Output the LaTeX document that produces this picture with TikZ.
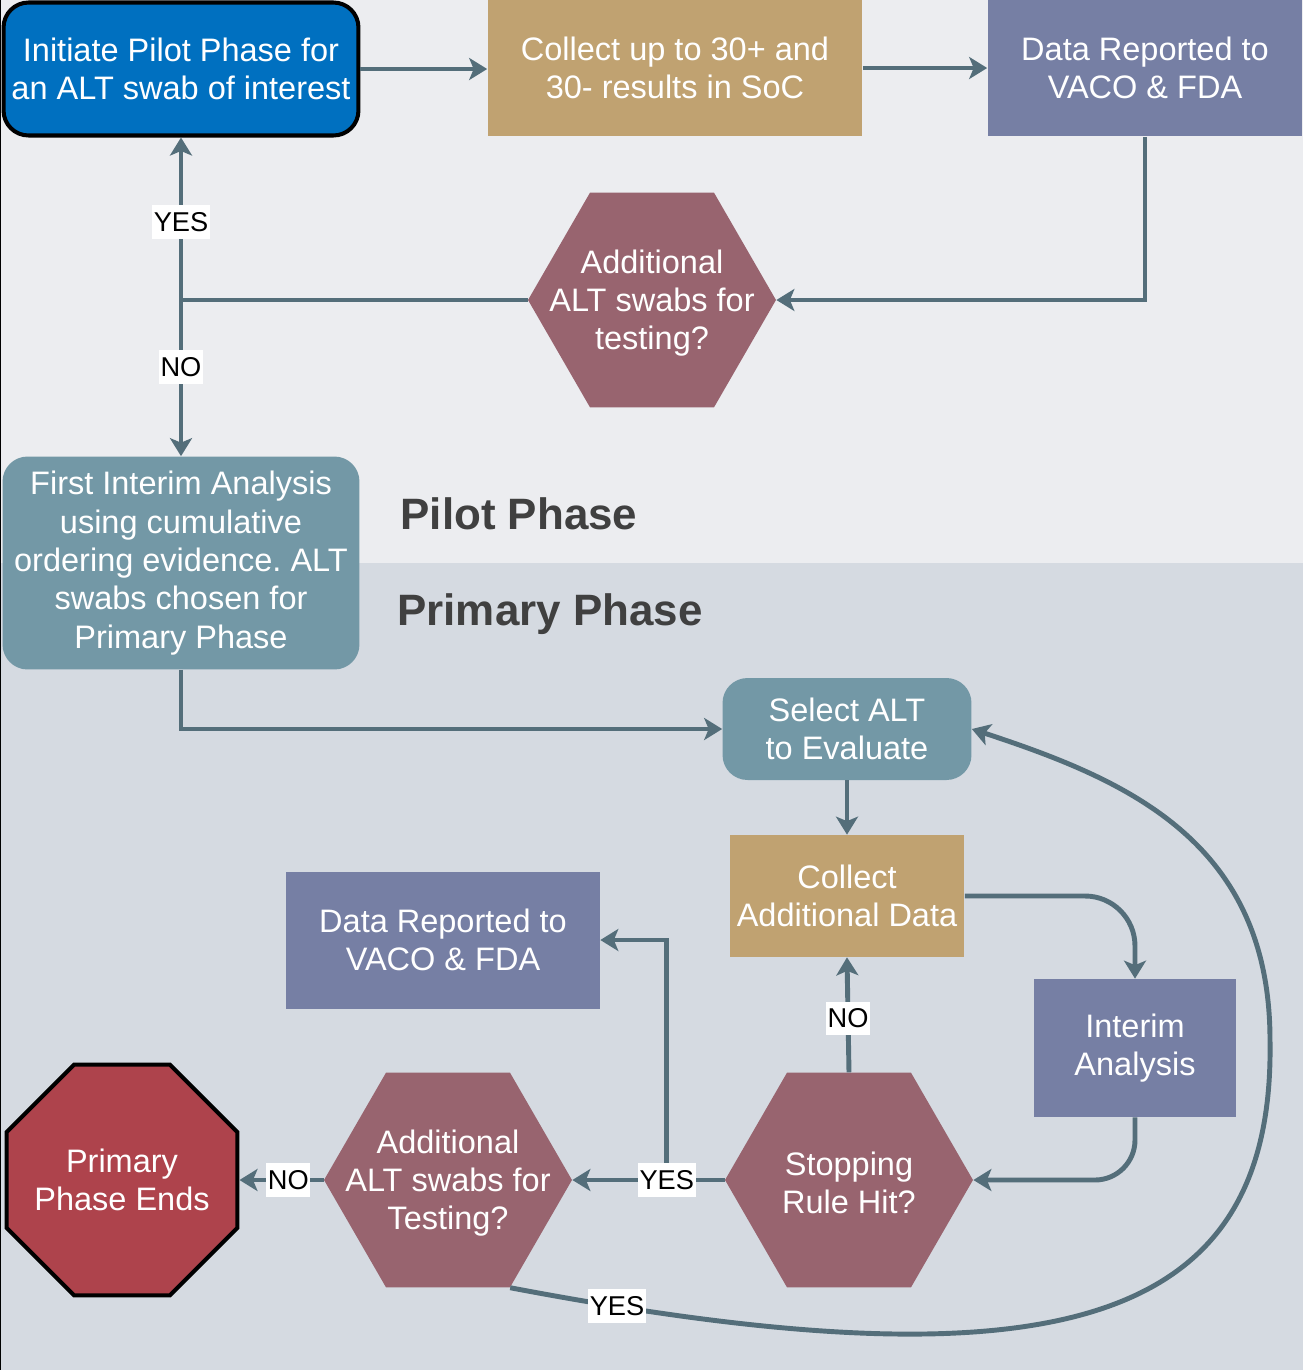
\documentclass[tikz,border=0pt]{standalone}
\usepackage{fontspec}
\setmainfont{Liberation Sans}
\usepackage{xcolor}
\usepackage{tikz}
\usetikzlibrary{positioning}
\usetikzlibrary{arrows.meta, shapes.geometric, calc}
\frenchspacing

\definecolor{pilotbg}{HTML}{ECEDF0}
\definecolor{primbg}{HTML}{D5DAE1}
\definecolor{startblue}{HTML}{0070C0}
\definecolor{collecttan}{HTML}{C0A271}
\definecolor{reportslate}{HTML}{767FA4}
\definecolor{decisionmauve}{HTML}{98646F}
\definecolor{analysisteal}{HTML}{7398A6}
\definecolor{stopred}{HTML}{AE434C}
\definecolor{linkgray}{HTML}{546E7A}
\definecolor{titlegray}{HTML}{404040}

\tikzset{
    boxtext/.style={text=white, align=center, font=\fontsize{18.5}{21.8}\selectfont, inner sep=0pt},
    plainbox/.style={boxtext, rectangle, fill=#1},
    roundbox/.style={boxtext, rectangle, rounded corners=0.5cm, fill=#1},
    hexbox/.style={regular polygon, regular polygon sides=6, fill=decisionmauve, minimum size=4.96cm, inner sep=0pt},
    hextext/.style={boxtext, yshift=-0.06cm},
    link/.style={draw=linkgray, line width=2.8pt},
    arr/.style={link, -{Stealth[length=0.36cm, width=0.44cm, inset=0.09cm]}},
    yesno/.style={fill=white, text=black, font=\fontsize{15.5}{18}\selectfont, inner xsep=1pt, inner ysep=4pt},
    phasetitle/.style={text=titlegray, font=\fontsize{25}{30}\selectfont\bfseries},
}

\begin{document}
\begin{tikzpicture}[x=0.02cm, y=-0.02cm]
            \useasboundingbox (0,0) rectangle (1303,1370);
            % background panes
            \fill[pilotbg] (0,0) rectangle (1303,563);
            \fill[primbg] (0,563) rectangle (1303,1370);
            \draw[black, line width=0.06cm] (0,0) -- (0,1370);

            % pilot phase
            \begin{scope}
                \node[roundbox=startblue, draw=black, line width=2.3pt, minimum width=7.1cm, minimum height=2.66cm] (init) at (181,69) {Initiate Pilot Phase for\\an ALT swab of interest};
                \node[plainbox=collecttan, minimum width=7.5cm, minimum height=2.74cm] (collect1) at (675,68) {Collect up to 30+ and\\30- results in SoC};
                \node[plainbox=reportslate, minimum width=6.3cm, minimum height=2.74cm] (report1) at (1145,68) {Data Reported to\\VACO \& FDA};
                \node[hexbox, label={[hextext]center:{Additional\\ALT swabs for\\testing?}}] (pilotmore) at (652,300) {};
                \node[roundbox=analysisteal, minimum width=7.14cm, minimum height=4.26cm] (first) at (181,563) {First Interim Analysis\\using cumulative\\ordering evidence. ALT\\swabs chosen for\\Primary Phase};
                \node[phasetitle] (pilottitle) at (519,514) {Pilot Phase};

                \draw[arr] (init.east) -- (init.east -| collect1.west);
                \draw[arr] (collect1.east) -- (report1.west);
                \draw[arr] (report1.south) |- (pilotmore.east);
                \draw[link] (pilotmore.west) -- (pilotmore.west -| init.south) coordinate (j1);
                \draw[arr] (j1) -- node[yesno, pos=0.48] (yes1) {YES} (init.south);
                \draw[arr] (j1) -- node[yesno, pos=0.43] (no1) {NO} (first.north);
            \end{scope}

            % primary phase
            \begin{scope}
                \node[phasetitle] (primtitle) at (550,614) {Primary Phase};
                \node[roundbox=analysisteal, minimum width=4.98cm, minimum height=2.04cm] (select) at (847,729) {Select ALT\\to Evaluate};
                \node[plainbox=collecttan, minimum width=4.7cm, minimum height=2.44cm] (collect2) at (847,896) {Collect\\Additional Data};
                \node[plainbox=reportslate, minimum width=6.28cm, minimum height=2.74cm] (report2) at (443,940) {Data Reported to\\VACO \& FDA};
                \node[plainbox=reportslate, minimum width=4.04cm, minimum height=2.76cm] (interim) at (1135,1048) {Interim\\Analysis};
                \node[hexbox, label={[hextext]center:{Stopping\\Rule Hit?}}] (stoprule) at (849,1180) {};
                \node[hexbox, label={[hextext]center:{Additional\\ALT swabs for\\Testing?}}] (primmore) at (448,1180) {};
                \node[regular polygon, regular polygon sides=8, fill=stopred, draw=black, line width=2.3pt, minimum size=5cm, inner sep=0pt, label={[boxtext]center:{Primary\\Phase Ends}}] (phaseend) at (122,1180) {};

                \draw[arr] (first.south) |- (select.west);
                \draw[arr] (select.south) -- (collect2.north);
                \draw[arr, rounded corners=1cm] (collect2.east) -| (interim.north);
                \draw[arr, rounded corners=0.8cm] (interim.south) |- (stoprule.east);
                \draw[arr] (stoprule.north) -- node[yesno, pos=0.47] (no2) {NO} (collect2.south);
                \draw[arr] (stoprule.west) -- coordinate[pos=0.38] (j2) (primmore.east);
                \draw[arr] (j2) |- (report2.east);
                \node[yesno] (yes2) at (j2) {YES};
                \draw[arr] (primmore.west) -- node[yesno, pos=0.42] (no3) {NO} (phaseend.east);
                \draw[arr] (primmore.-60) .. controls (1060,1392) and (1275,1325) .. (1270,1040)
                    .. controls (1270,840) and (1124,779) .. (select.east);
                \node[yesno] (yes3) at (617,1306) {YES};
            \end{scope}
        \end{tikzpicture}
\end{document}
